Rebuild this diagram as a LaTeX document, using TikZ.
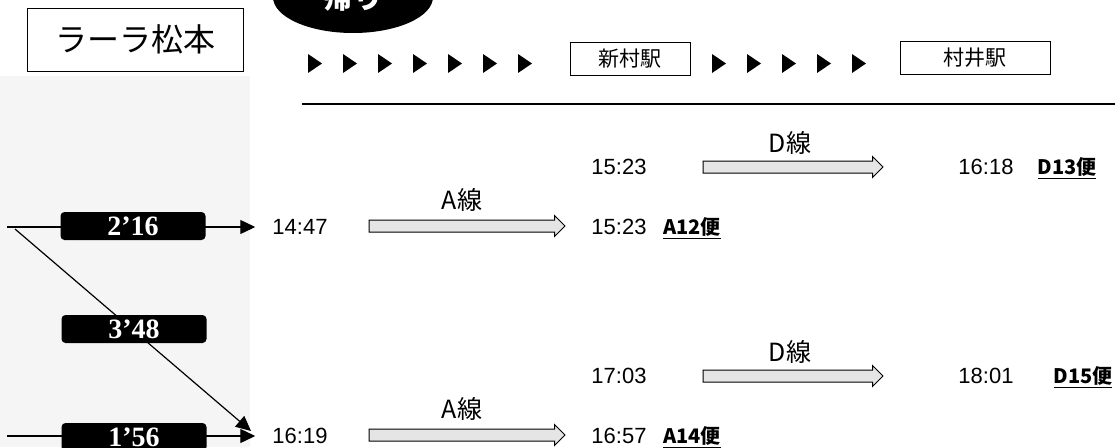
\documentclass[tikz,border=0pt]{standalone}
\usepackage{fontspec}
\setmainfont{Liberation Sans}
\newfontfamily\jp{Noto Sans CJK JP}
\newfontfamily\serifnum{Liberation Serif}
\usepackage{tikz}
\usetikzlibrary{positioning,arrows.meta,shapes.arrows,shapes.geometric}

\begin{document}
\begin{tikzpicture}[x=1pt,y=-1pt,
    dur/.style={rectangle,rounded corners=4pt,fill=black,text=white,minimum width=145pt,minimum height=28pt,inner sep=0pt,font=\serifnum\bfseries\fontsize{28}{28}\selectfont},
    tm/.style={inner sep=0pt,font=\fontsize{22}{22}\selectfont},
    stn/.style={rectangle,draw,line width=1pt,minimum height=33pt,inner sep=0pt,font=\jp\fontsize{21}{21}\selectfont},
    lbl/.style={inner sep=0pt,font=\jp\fontsize{25}{25}\selectfont},
    bin/.style={inner sep=0pt,font=\jp\bfseries\fontsize{20}{20}\selectfont},
    blk/.style={single arrow,draw,line width=1pt,fill=black!10,text height=5pt,text depth=5pt,inner sep=0.5pt,single arrow head extend=4.5pt,single arrow head indent=0pt},
    walk/.style={line width=1.2pt,-{Triangle[length=15pt,width=14pt]}}]
    \useasboundingbox (0,0) rectangle (1115,447);
    \fill[black!4] (0,76) rectangle (250,447);

    \node[draw,line width=1pt,minimum width=216pt,minimum height=63pt,font=\jp\fontsize{32}{32}\selectfont] at (135,39.5) (place) {ラーラ松本};
    \node[ellipse,fill=black,text=white,minimum width=160pt,minimum height=72pt,font=\jp\bfseries\fontsize{30}{30}\selectfont] at (353,-3) (kaeri) {帰り};

    % stations
    \foreach \x in {308,343,378,413,448,483,518,712,747,782,817,852}
        \fill (\x,54) -- ++(14,9.5) -- ++(-14,9.5) -- cycle;
    \node[stn,minimum width=120pt] at (630,59) (shinmura) {新村駅};
    \node[stn,minimum width=150pt] at (975,58) (murai) {村井駅};
    \coordinate (r0) at (302,104);
    \coordinate (r1) at (1115,104);
    \draw[line width=1.8pt] (r0) -- (r1);

    % walking
    \coordinate (s1) at (7,227);
    \coordinate (s3) at (7,436);
    \coordinate (d1) at (15,229);
    \coordinate (tip3) at (251,431);
    \node[tm] at (300,227) (t1) {14:47};
    \node[tm] at (300,436) (t3) {16:19};
    \draw[walk,shorten >=17pt] (s1) -- (t1.west);
    \draw[walk,shorten >=17pt] (s3) -- (t3.west);
    \draw[walk] (d1) -- (tip3);
    \node[dur] at (133,226) (w1) {2’16};
    \node[dur] at (134,329) (w2) {3’48};
    \node[dur] at (134,437) (w3) {1’56};

    % first trip
    \node[lbl] at (462,200) (la1) {A線};
    \node[blk,minimum height=196pt] at (464,226) (aa1) {};
    \node[tm] at (619,227) (t2) {15:23};
    \node[bin] at (692,228) (b1) {\underline{A12便}};
    \node[lbl] at (790,143) (ld1) {D線};
    \node[tm] at (619,167) (t4) {15:23};
    \node[blk,minimum height=180pt] at (790,167) (da1) {};
    \node[tm] at (986,167) (t5) {16:18};
    \node[bin] at (1067,168) (b2) {\underline{D13便}};

    % second trip
    \node[lbl] at (462,409) (la2) {A線};
    \node[blk,minimum height=196pt] at (464,435) (aa2) {};
    \node[tm] at (619,436) (t6) {16:57};
    \node[bin] at (692,437) (b3) {\underline{A14便}};
    \node[lbl] at (790,352) (ld2) {D線};
    \node[tm] at (619,376) (t7) {17:03};
    \node[blk,minimum height=180pt] at (790,376) (da2) {};
    \node[tm] at (986,376) (t8) {18:01};
    \node[bin] at (1083,377) (b4) {\underline{D15便}};
\end{tikzpicture}
\end{document}
